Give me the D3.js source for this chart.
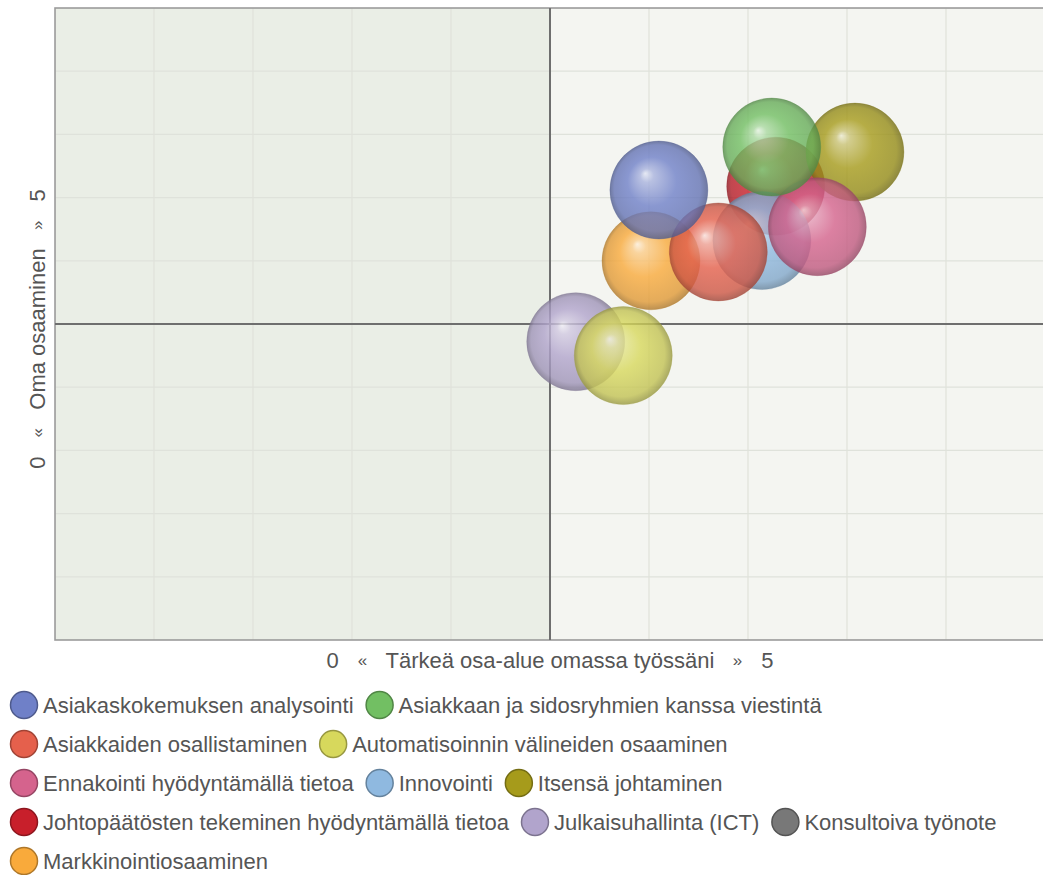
<!DOCTYPE html>
<html>
<head>
<meta charset="utf-8">
<script src="https://cdn.jsdelivr.net/npm/d3@7"></script>
<style>
  body { margin: 0; background: #ffffff; }
  svg text { font-family: "Liberation Sans", Arial, sans-serif; fill: #555555; }
</style>
</head>
<body>
<svg id="chart" width="1043" height="875"></svg>
<script>
// Competence areas (legend order)
const categories = [
  "Asiakaskokemuksen analysointi",
  "Asiakkaan ja sidosryhmien kanssa viestintä",
  "Asiakkaiden osallistaminen",
  "Automatisoinnin välineiden osaaminen",
  "Ennakointi hyödyntämällä tietoa",
  "Innovointi",
  "Itsensä johtaminen",
  "Johtopäätösten tekeminen hyödyntämällä tietoa",
  "Julkaisuhallinta (ICT)",
  "Konsultoiva työnote",
  "Markkinointiosaaminen"
];
// Importance in own work (x) and own competence (y), scale 0–5
const importance = [3.05, 3.62, 3.35, 2.87, 3.85, 3.57, 4.04, 3.64, 2.63, null, 3.01];
const competence = [3.56, 3.90, 3.07, 2.25, 3.27, 3.16, 3.86, 3.59, 2.36, null, 3.00];
const colors = ["#6f80c8", "#72bf63", "#e5604c", "#d7d85c", "#d5638d", "#8fb9e0",
                "#a69b1b", "#c81f2b", "#b1a4cc", "#787878", "#f9aa3b"];

const gridTicks = [0, 0.5, 1, 1.5, 2, 2.5, 3, 3.5, 4, 4.5, 5];
const midValue = 2.5;
const xTitle = "Tärkeä osa-alue omassa työssäni";
const yTitle = "Oma osaaminen";
const scaleLow = "0", scaleHigh = "5";

const svg = d3.select("#chart");
const plot = { left: 55, right: 1045, top: 8, bottom: 640 };

const x = d3.scaleLinear().domain([0, 5]).range([plot.left, plot.right]);
const y = d3.scaleLinear().domain([0, 5]).range([plot.bottom, plot.top]);
const bubbleR = 49;

const defs = svg.append("defs");
colors.forEach((c, i) => {
  const g = defs.append("radialGradient").attr("id", "ball" + i)
    .attr("cx", "50%").attr("cy", "50%").attr("r", "50%")
    .attr("fx", "36%").attr("fy", "33%");
  const lighten = t => d3.interpolateRgb(c, "#ffffff")(t);
  const darken = t => d3.interpolateRgb(c, "#000000")(t);
  g.append("stop").attr("offset", "0%").attr("stop-color", lighten(0.8));
  g.append("stop").attr("offset", "14%").attr("stop-color", lighten(0.4));
  g.append("stop").attr("offset", "50%").attr("stop-color", c);
  g.append("stop").attr("offset", "88%").attr("stop-color", darken(0.1));
  g.append("stop").attr("offset", "100%").attr("stop-color", darken(0.3));
});
defs.append("clipPath").attr("id", "plotClip").append("rect")
  .attr("x", plot.left).attr("y", plot.top)
  .attr("width", plot.right - plot.left).attr("height", plot.bottom - plot.top);

// Plot background: left half slightly greener than right half
svg.append("rect").attr("x", plot.left).attr("y", plot.top)
  .attr("width", x(midValue) - plot.left).attr("height", plot.bottom - plot.top)
  .attr("fill", "#eaeee6");
svg.append("rect").attr("x", x(midValue)).attr("y", plot.top)
  .attr("width", plot.right - x(midValue)).attr("height", plot.bottom - plot.top)
  .attr("fill", "#f4f5f1");

// Grid
const grid = svg.append("g").attr("clip-path", "url(#plotClip)");
grid.selectAll("line.v").data(gridTicks).join("line")
  .attr("class", "v")
  .attr("x1", d => x(d)).attr("x2", d => x(d))
  .attr("y1", plot.top).attr("y2", plot.bottom)
  .attr("stroke", "#dfe2db").attr("stroke-width", 1.2);
grid.selectAll("line.h").data(gridTicks).join("line")
  .attr("class", "h")
  .attr("y1", d => y(d)).attr("y2", d => y(d))
  .attr("x1", plot.left).attr("x2", plot.right)
  .attr("stroke", "#dfe2db").attr("stroke-width", 1.2);

// Frame
svg.append("rect").attr("x", plot.left).attr("y", plot.top)
  .attr("width", plot.right - plot.left).attr("height", plot.bottom - plot.top)
  .attr("fill", "none").attr("stroke", "#9c9c9c").attr("stroke-width", 1.6);

// Quadrant cross
svg.append("line").attr("x1", x(midValue)).attr("x2", x(midValue))
  .attr("y1", plot.top).attr("y2", plot.bottom)
  .attr("stroke", "#6e6e6e").attr("stroke-width", 2);
svg.append("line").attr("y1", y(midValue)).attr("y2", y(midValue))
  .attr("x1", plot.left).attr("x2", plot.right)
  .attr("stroke", "#6e6e6e").attr("stroke-width", 2);

// Bubbles (drawn last series first so earlier series sit on top)
const points = categories.map((name, i) => ({ name, i, vx: importance[i], vy: competence[i] }))
  .filter(d => d.vx != null && d.vy != null)
  .reverse();
svg.append("g").attr("clip-path", "url(#plotClip)")
  .selectAll("circle").data(points).join("circle")
  .attr("cx", d => x(d.vx)).attr("cy", d => y(d.vy)).attr("r", bubbleR)
  .attr("fill", d => `url(#ball${d.i})`)
  .attr("fill-opacity", 0.8)
  .attr("stroke", d => d3.interpolateRgb(colors[d.i], "#000")(0.25))
  .attr("stroke-opacity", 0.3).attr("stroke-width", 1);

// Axis titles with scale ends
const fs = 22;
function axisTitle(g, title) {
  const t = g.append("text").attr("text-anchor", "middle").attr("dominant-baseline", "central")
    .attr("font-size", fs).text(title);
  const half = t.node().getComputedTextLength() / 2;
  [[-(half + 53), scaleLow], [-(half + 23), "«"], [half + 23, "»"], [half + 53, scaleHigh]]
    .forEach(([dx, s]) => g.append("text").attr("x", dx).attr("text-anchor", "middle")
      .attr("dominant-baseline", "central")
      .attr("font-size", (s === "«" || s === "»") ? 17 : fs).text(s));
}
axisTitle(svg.append("g").attr("transform", `translate(${x(midValue)},660)`), xTitle);
axisTitle(svg.append("g").attr("transform", `translate(37,329) rotate(-90)`), yTitle);

// Legend, wrapped in rows
const legend = svg.append("g");
let lx = 10, row = 0;
const rowY = r => 705 + r * 39;
categories.forEach((name, i) => {
  const item = legend.append("g");
  const label = item.append("text").attr("x", 33).attr("y", 0)
    .attr("dominant-baseline", "central").attr("font-size", fs).attr("fill", "#555").text(name);
  const w = 33 + label.node().getComputedTextLength();
  if (lx + w > 1035) { row += 1; lx = 10; }
  item.attr("transform", `translate(${lx},${rowY(row)})`);
  item.insert("circle", "text").attr("cx", 14).attr("cy", 0).attr("r", 13.5)
    .attr("fill", colors[i])
    .attr("stroke", d3.interpolateRgb(colors[i], "#000")(0.3)).attr("stroke-width", 1.5);
  lx += w + 12;
});
</script>
</body>
</html>
